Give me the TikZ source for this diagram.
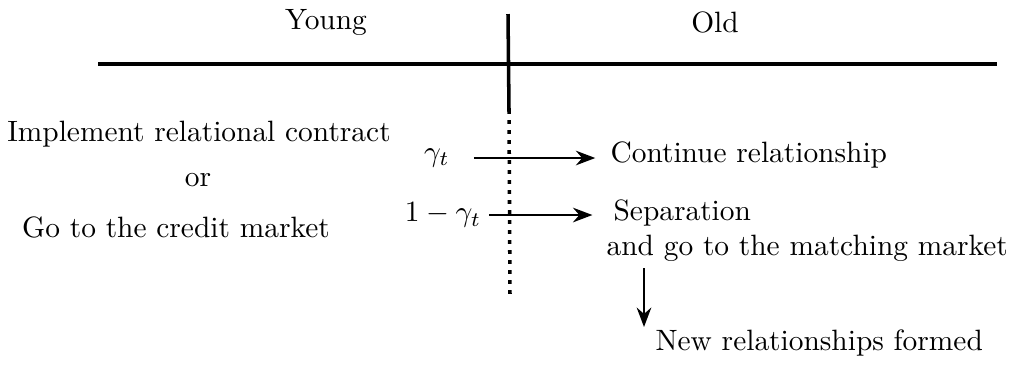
\documentclass[tikz,border=0pt]{standalone}
\usepackage{tikz}
\usetikzlibrary{arrows.meta}

\begin{document}
\begin{tikzpicture}[x=0.34pt,y=-0.34pt,>=Stealth,every node/.style={inner sep=0pt}]
\useasboundingbox (0,0) rectangle (1013,365);
\coordinate (T) at (508,14);
\coordinate (M) at (509,110);
\coordinate (B) at (510,297);
\coordinate (L) at (98,64);
\coordinate (R) at (997,64);
\node (young) at (326,22) {Young};
\node (old) at (715,22) {Old};
\node (impl) at (199,134) {Implement relational contract};
\node (or) at (198,180) {or};
\node (credit) at (176,227) {Go to the credit market};
\node (gam) at (437,158) {$\gamma_t$};
\node (ogam) at (443,215) {$1-\gamma_t$};
\node[anchor=west] (cont) at (610,155) {Continue relationship};
\node[anchor=west] (sep) at (613,213) {Separation};
\node[anchor=west] (match) at (606,248) {and go to the matching market};
\node[anchor=west] (new) at (655,343) {New relationships formed};
\draw[line width=1.2pt] (L) -- (R);
\draw[line width=1.2pt] (T) -- (M);
\draw[line width=1.2pt,dash pattern=on 1.3pt off 2.1pt] (M) -- (B);
\draw[->,line width=0.8pt] ([xshift=8pt]gam.east) -- ([xshift=-5pt]cont.west |- gam.center);
\draw[->,line width=0.8pt] ([xshift=2.5pt]ogam.east) -- ([xshift=-7pt]sep.west |- ogam.center);
\draw[->,line width=0.8pt] (644,268) -- (644,327);
\end{tikzpicture}
\end{document}
